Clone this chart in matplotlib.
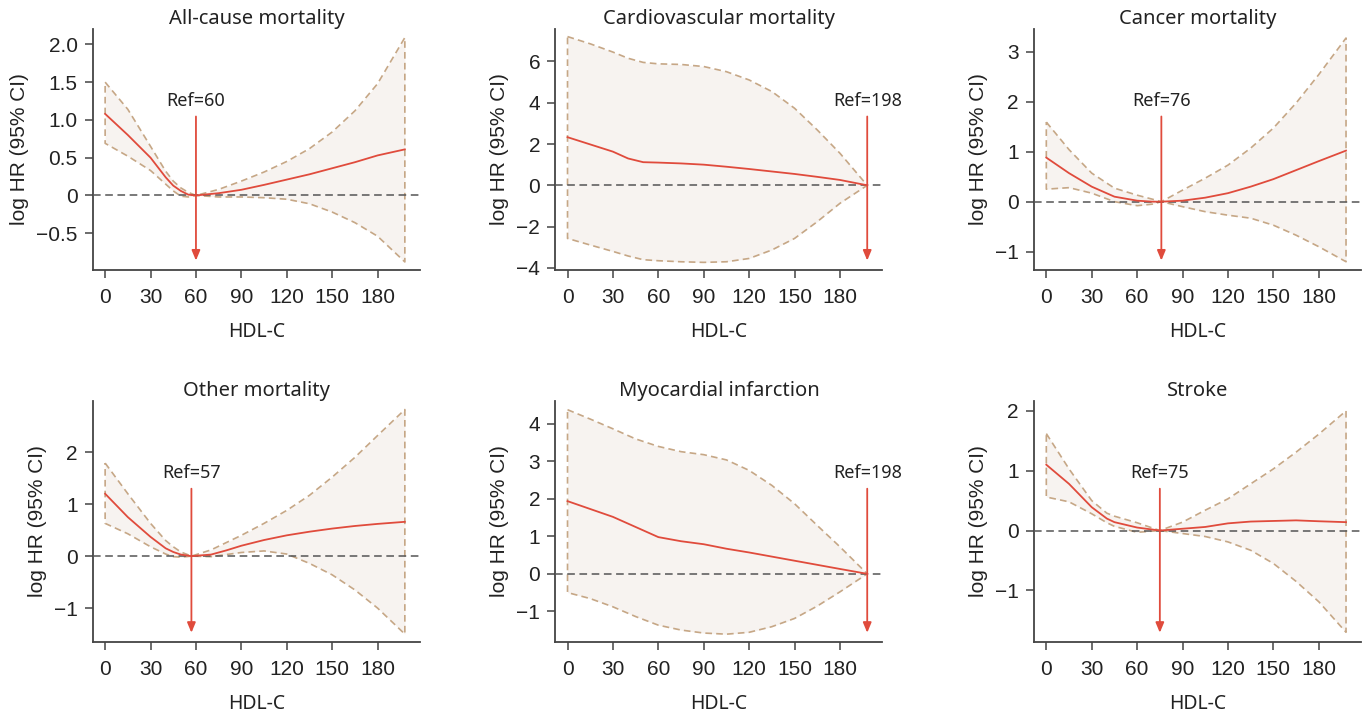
import numpy as np
import matplotlib.pyplot as plt
import matplotlib.transforms as mtransforms

plt.rcParams['font.family'] = ['Liberation Sans', 'DejaVu Sans']
plt.rcParams['axes.unicode_minus'] = True

### values (HDL-C vs log HR)

# All-cause mortality
x_all = [0, 15, 30, 40, 45, 50, 55, 60, 75, 90, 105, 120, 135, 150, 165, 180, 198]
hr_all = [1.08, 0.80, 0.50, 0.24, 0.13, 0.06, 0.01, 0.0, 0.03, 0.075, 0.14, 0.21, 0.28, 0.36, 0.44, 0.53, 0.61]
up_all = [1.50, 1.14, 0.65, 0.32, 0.19, 0.10, 0.04, 0.0, 0.08, 0.19, 0.31, 0.45, 0.62, 0.84, 1.12, 1.48, 2.09]
lo_all = [0.69, 0.52, 0.33, 0.15, 0.06, -0.01, -0.02, 0.0, -0.02, -0.02, -0.03, -0.05, -0.11, -0.22, -0.36, -0.54, -0.88]

# Cardiovascular mortality
x_cvd = [0, 15, 30, 40, 50, 60, 75, 90, 105, 120, 135, 150, 165, 180, 198]
hr_cvd = [2.33, 1.98, 1.63, 1.30, 1.12, 1.10, 1.06, 1.00, 0.90, 0.79, 0.67, 0.55, 0.41, 0.26, 0.0]
up_cvd = [7.20, 6.85, 6.45, 6.15, 5.95, 5.88, 5.85, 5.75, 5.50, 5.10, 4.54, 3.73, 2.68, 1.55, 0.0]
lo_cvd = [-2.57, -2.89, -3.20, -3.42, -3.60, -3.65, -3.70, -3.73, -3.70, -3.54, -3.13, -2.57, -1.76, -0.87, 0.0]

# Cancer mortality
x_can = [0, 15, 30, 45, 60, 70, 76, 90, 105, 120, 135, 150, 165, 180, 198]
hr_can = [0.88, 0.57, 0.30, 0.10, 0.02, 0.0, 0.0, 0.02, 0.08, 0.17, 0.30, 0.45, 0.63, 0.81, 1.02]
up_can = [1.59, 1.04, 0.57, 0.27, 0.13, 0.05, 0.0, 0.23, 0.47, 0.73, 1.07, 1.47, 1.97, 2.54, 3.27]
lo_can = [0.25, 0.28, 0.17, 0.0, -0.08, -0.05, 0.0, -0.10, -0.20, -0.27, -0.33, -0.47, -0.67, -0.90, -1.20]

# Other mortality
x_oth = [0, 15, 30, 40, 45, 50, 57, 70, 80, 90, 105, 120, 135, 150, 165, 180, 198]
hr_oth = [1.20, 0.75, 0.37, 0.15, 0.08, 0.03, 0.0, 0.03, 0.11, 0.20, 0.31, 0.40, 0.47, 0.53, 0.58, 0.62, 0.66]
up_oth = [1.79, 1.20, 0.63, 0.30, 0.18, 0.08, 0.0, 0.12, 0.26, 0.40, 0.63, 0.88, 1.17, 1.52, 1.90, 2.32, 2.82]
lo_oth = [0.63, 0.43, 0.18, 0.04, -0.01, -0.02, 0.0, -0.01, 0.03, 0.07, 0.10, 0.04, -0.14, -0.36, -0.65, -1.00, -1.50]

# Myocardial infarction
x_mi = [0, 15, 30, 45, 60, 75, 90, 105, 120, 135, 150, 165, 180, 198]
hr_mi = [1.94, 1.73, 1.52, 1.25, 0.98, 0.87, 0.79, 0.67, 0.57, 0.46, 0.35, 0.24, 0.13, 0.0]
up_mi = [4.38, 4.13, 3.87, 3.60, 3.40, 3.26, 3.18, 3.04, 2.76, 2.36, 1.87, 1.29, 0.72, 0.0]
lo_mi = [-0.50, -0.66, -0.88, -1.14, -1.37, -1.50, -1.58, -1.61, -1.56, -1.41, -1.19, -0.86, -0.48, 0.0]

# Stroke
x_str = [0, 15, 30, 40, 45, 60, 75, 90, 105, 120, 135, 150, 165, 180, 198]
hr_str = [1.10, 0.78, 0.39, 0.20, 0.14, 0.05, 0.0, 0.03, 0.06, 0.12, 0.15, 0.16, 0.17, 0.155, 0.14]
up_str = [1.62, 1.03, 0.50, 0.29, 0.24, 0.13, 0.0, 0.14, 0.34, 0.53, 0.78, 1.03, 1.31, 1.61, 2.00]
lo_str = [0.56, 0.48, 0.28, 0.13, 0.07, -0.03, 0.0, -0.05, -0.10, -0.19, -0.33, -0.55, -0.85, -1.19, -1.70]

titles = ['All-cause mortality', 'Cardiovascular mortality', 'Cancer mortality',
          'Other mortality', 'Myocardial infarction', 'Stroke']
refs = [60, 198, 76, 57, 198, 75]
yticks = [[-0.5, 0, 0.5, 1.0, 1.5, 2.0], [-4, -2, 0, 2, 4, 6], [-1, 0, 1, 2, 3],
          [-1, 0, 1, 2], [-1, 0, 1, 2, 3, 4], [-1, 0, 1, 2]]
yticklabels = [['\u22120.5', '0', '0.5', '1.0', '1.5', '2.0'],
               ['\u22124', '\u22122', '0', '2', '4', '6'],
               ['\u22121', '0', '1', '2', '3'],
               ['\u22121', '0', '1', '2'],
               ['\u22121', '0', '1', '2', '3', '4'],
               ['\u22121', '0', '1', '2']]
ylims = [(-0.99, 2.21), (-4.11, 7.59), (-1.37, 3.46), (-1.66, 2.99), (-1.83, 4.62), (-1.87, 2.17)]

series = [(x_all, hr_all, up_all, lo_all), (x_cvd, hr_cvd, up_cvd, lo_cvd),
          (x_can, hr_can, up_can, lo_can), (x_oth, hr_oth, up_oth, lo_oth),
          (x_mi, hr_mi, up_mi, lo_mi), (x_str, hr_str, up_str, lo_str)]

red = '#e04b3c'
tan = '#c6a786'
fillc = '#f7f3f0'
spinec = '#444444'
txtfont = ['Noto Sans', 'DejaVu Sans']

fig = plt.figure(figsize=(13.68, 7.13), dpi=100)
lefts = [0.068, 0.406, 0.756]
bottoms = [0.621, 0.099]
w, h = 0.239, 0.339

for i in range(6):
    ax = fig.add_axes([lefts[i % 3], bottoms[i // 3], w, h])
    x, hr, up, lo = [np.array(s) for s in series[i]]

    ax.fill_between(x, lo, up, color=fillc, lw=0, zorder=1)
    # dashed outline of the CI band
    ox = np.concatenate([x, x[::-1], x[:1]])
    oy = np.concatenate([up, lo[::-1], up[:1]])
    ax.plot(ox, oy, color=tan, lw=1.2, ls=(0, (4, 2.5)), zorder=2)
    ax.axhline(0, color='#555555', lw=1.1, ls=(0, (5, 3)), zorder=3)
    ax.plot(x, hr, color=red, lw=1.3, zorder=4)

    trans = mtransforms.blended_transform_factory(ax.transData, ax.transAxes)
    ax.annotate('', xy=(refs[i], 0.04), xytext=(refs[i], 0.636),
                xycoords=trans, textcoords=trans,
                arrowprops=dict(arrowstyle='-|>,head_length=0.6,head_width=0.25',
                                color=red, lw=1.3, shrinkA=0, shrinkB=0), zorder=5)
    ax.text(refs[i], 0.70, 'Ref=%d' % refs[i], transform=trans, ha='center', va='center',
            fontsize=13, family=txtfont, color='#222222')

    ax.set_xlim(-8, 208)
    ax.set_ylim(*ylims[i])
    ax.set_xticks([0, 30, 60, 90, 120, 150, 180])
    ax.set_yticks(yticks[i])
    ax.set_yticklabels(yticklabels[i])
    ax.tick_params(labelsize=15, length=6, width=1.1, color=spinec, labelcolor='#222222')
    ax.tick_params(axis='x', pad=6.5)
    ax.tick_params(axis='y', pad=5)
    for s in ['top', 'right']:
        ax.spines[s].set_visible(False)
    for s in ['left', 'bottom']:
        ax.spines[s].set_color(spinec)
        ax.spines[s].set_linewidth(1.3)

    ax.set_title(titles[i], fontsize=14.5, family=txtfont, color='#222222', pad=-2)
    ax.set_xlabel('HDL-C', fontsize=14, family=txtfont, color='#222222', labelpad=11)
    ax.set_ylabel('log HR (95% CI)', fontsize=15, color='#222222', labelpad=5)

fig.savefig('out.png', dpi=100)
